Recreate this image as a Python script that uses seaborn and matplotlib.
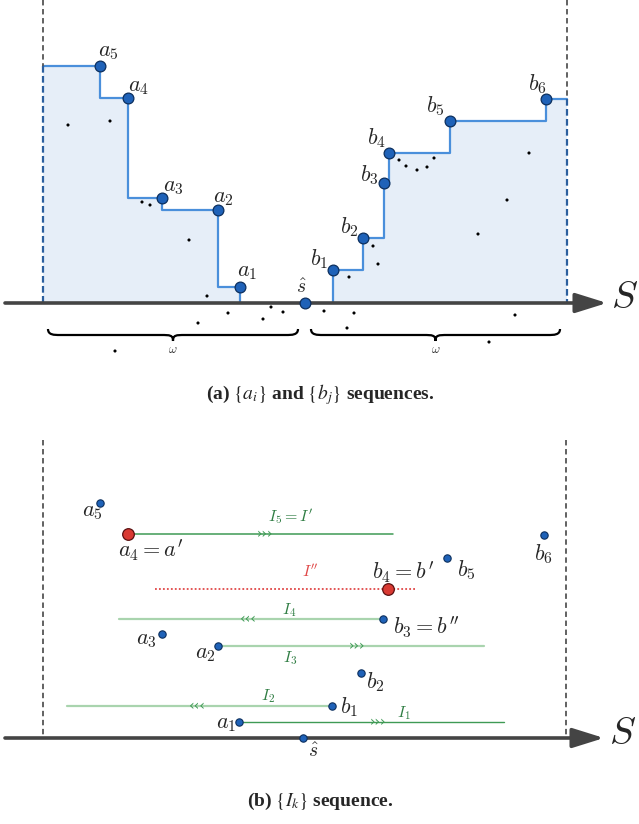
import numpy as np
import pandas as pd
import matplotlib.pyplot as plt
import seaborn as sns
from matplotlib.path import Path as MPath
from matplotlib.patches import PathPatch

sns.set_theme(style="white")
plt.rcParams["font.family"] = ["Liberation Serif", "DejaVu Serif"]

# ---- panel (a): staircase sequences (pixel coordinates of the figure) ----
axis_a = 303
walls = [43, 567]
a_x = [100, 128, 162, 218, 240]
a_y = [66, 98, 198, 210, 287]
a_lbl = ["$a_5$", "$a_4$", "$a_3$", "$a_2$", "$a_1$"]
b_x = [333, 363, 384, 389, 450, 546]
b_y = [270, 238, 183, 153, 121, 99]
b_lbl = ["$b_1$", "$b_2$", "$b_3$", "$b_4$", "$b_5$", "$b_6$"]
s_hat_a = 305
dots_x = [68, 110, 142, 150, 189, 207, 228, 198, 263, 271, 283, 115,
          324, 354, 347, 349, 373, 378, 399, 406, 417, 427, 434, 529, 507, 478, 515, 489]
dots_y = [125, 121, 202, 205, 240, 296, 313, 323, 319, 307, 312, 351,
          311, 313, 328, 277, 246, 264, 160, 166, 170, 167, 158, 153, 200, 234, 315, 342]
braces = [(48, 298), (311, 560)]

# ---- panel (b): intervals ----
axis_b = 738
pb_names = ["a5", "a4", "a3", "a2", "a1", "b1", "b2", "b3", "b4", "b5", "b6"]
pb_x = [100, 128, 162, 218, 239, 332, 361, 383, 388, 447, 544]
pb_y = [503, 534, 634, 646, 722, 706, 673, 619, 589, 558, 535]
pb_red = ["a4", "b4"]
s_hat_b = 303
iv_names = ["$I_5 = I'$", "$I''$", "$I_4$", "$I_3$", "$I_2$", "$I_1$"]
iv_start = [128, 155, 119, 218, 67, 239]
iv_end = [393, 415, 383, 484, 332, 504]
iv_y = [534, 589, 619, 646, 706, 722]
iv_dir = [">", None, "<", ">", "<", ">"]
iv_arrow_x = [265, None, 248, 357, 197, 378]

fig = plt.figure(figsize=(6.39, 8.24), dpi=100)
ax = fig.add_axes([0, 0, 1, 1])
ax.set_xlim(0, 639)
ax.set_ylim(824, 0)
ax.axis("off")

blue = "#1f62b8"
edge = "#0c2f5e"
step_c = "#4a8fdb"
fill_c = "#e6eef8"

# staircase a
sx = [walls[0]] + a_x + [a_x[-1]]
sy = [a_y[0]] + a_y + [axis_a]
ax.fill_between(sx, sy, axis_a, step="pre", color=fill_c, lw=0)
ax.step(sx, sy, where="pre", color=step_c, lw=1.6)
# staircase b
tx = [b_x[0]] + b_x + [walls[1]]
ty = [axis_a] + b_y + [b_y[-1]]
ax.fill_between(tx, ty, axis_a, step="post", color=fill_c, lw=0)
ax.step(tx, ty, where="post", color=step_c, lw=1.6)

for xw, yt in zip(walls, [a_y[0], b_y[-1]]):
    ax.plot([xw, xw], [0, yt], color="#555555", lw=1.3, ls=(0, (3, 2)))
    ax.plot([xw, xw], [yt, axis_a], color="#2c5f9e", lw=1.6, ls=(0, (3, 1.5)))

ax.annotate("", xy=(607, axis_a), xytext=(5, axis_a),
            arrowprops=dict(arrowstyle="-|>,head_length=1.6,head_width=0.5",
                            color="#444444", lw=2.6, shrinkA=0, shrinkB=0))
ax.text(625, axis_a - 4, "$S$", fontsize=28, va="center", ha="center", math_fontfamily="cm")

sns.scatterplot(x=dots_x, y=dots_y, ax=ax, s=5, color="black", edgecolor="none")
sns.scatterplot(x=a_x + b_x + [s_hat_a], y=a_y + b_y + [axis_a], ax=ax, s=60,
                color=blue, edgecolor=edge, linewidth=0.9, zorder=5)

a_off = [(8, -14), (11, -11), (11, -11), (5, -12), (7, -14)]
for x, y, l, (dx, dy) in zip(a_x, a_y, a_lbl, a_off):
    ax.text(x + dx, y + dy, l, fontsize=16, math_fontfamily="cm", ha="center", va="center")
b_off = [(-14, -11), (-14, -11), (-15, -8), (-13, -15), (-15, -15), (-9, -15)]
for x, y, l, (dx, dy) in zip(b_x, b_y, b_lbl, b_off):
    ax.text(x + dx, y + dy, l, fontsize=16, math_fontfamily="cm", ha="center", va="center")
ax.text(s_hat_a - 4, axis_a - 15, r"$\hat{s}$", fontsize=14, math_fontfamily="cm",
        ha="center", va="center")


def brace(x0, x1, y, d):
    xm = (x0 + x1) / 2
    q = 12
    verts = [(x0, y), (x0, y + d / 2), (x0 + q / 2, y + d / 2), (x0 + q, y + d / 2),
             (xm - q, y + d / 2), (xm - 3, y + d / 2), (xm, y + d / 2), (xm, y + d),
             (xm, y + d / 2), (xm + 3, y + d / 2), (xm + q, y + d / 2),
             (x1 - q, y + d / 2), (x1 - q / 2, y + d / 2), (x1, y + d / 2), (x1, y)]
    codes = [MPath.MOVETO, MPath.CURVE4, MPath.CURVE4, MPath.CURVE4,
             MPath.LINETO, MPath.CURVE4, MPath.CURVE4, MPath.CURVE4,
             MPath.CURVE4, MPath.CURVE4, MPath.CURVE4,
             MPath.LINETO, MPath.CURVE4, MPath.CURVE4, MPath.CURVE4]
    ax.add_patch(PathPatch(MPath(verts, codes), fill=False, lw=1.6, color="black"))
    ax.text(xm, y + d + 9, r"$\omega$", fontsize=9, math_fontfamily="cm",
            ha="center", va="center", color="#333333")


for x0, x1 in braces:
    brace(x0, x1, 329, 12)

ax.text(320, 395, r"(a) $\{a_i\}$ and $\{b_j\}$ sequences.", fontsize=14,
        fontweight="bold", ha="center", va="center", math_fontfamily="stix")

# ---- panel (b) ----
for xw in walls:
    ax.plot([xw - 1, xw - 1] if xw > 300 else [xw, xw], [440, axis_b],
            color="#555555", lw=1.3, ls=(0, (3, 2)))
ax.annotate("", xy=(604, axis_b), xytext=(5, axis_b),
            arrowprops=dict(arrowstyle="-|>,head_length=1.6,head_width=0.5",
                            color="#444444", lw=2.6, shrinkA=0, shrinkB=0))
ax.text(623, axis_b - 4, "$S$", fontsize=28, va="center", ha="center", math_fontfamily="cm")

dark_g = "#3f9a55"
light_g = "#a9d4ae"
txt_g = "#2f7d43"
iv_col = [dark_g, "#e04848", light_g, light_g, light_g, dark_g]
iv_lw = [1.1, 1.3, 1.6, 1.6, 1.6, 1.0]
for n, x0, x1, y, d, axx, c, lw in zip(iv_names, iv_start, iv_end, iv_y, iv_dir,
                                       iv_arrow_x, iv_col, iv_lw):
    if d is None:
        ax.plot([x0, x1], [y, y], color=c, lw=lw, ls=(0, (1, 1.2)))
    else:
        ax.plot([x0, x1], [y, y], color=c, lw=lw)
        ax.text(axx, y, "\u203a\u203a\u203a" if d == ">" else "\u2039\u2039\u2039",
                fontsize=10, color=dark_g, ha="center", va="center",
                family=["DejaVu Sans"])

iv_lbl_pos = [(291, 516), (310, 572), (289, 610), (290, 658), (268, 696), (404, 713)]
iv_lbl_col = [txt_g, "#e04848", txt_g, txt_g, txt_g, txt_g]
for n, (lx, ly), c in zip(iv_names, iv_lbl_pos, iv_lbl_col):
    ax.text(lx, ly, n, fontsize=11.5, color=c, ha="center", va="center", math_fontfamily="cm")

pts = pd.DataFrame({"name": pb_names, "x": pb_x, "y": pb_y})
pts["red"] = pts["name"].isin(pb_red)
sns.scatterplot(data=pts[~pts["red"]], x="x", y="y", ax=ax, s=28, color=blue,
                edgecolor=edge, linewidth=0.8, zorder=5, legend=False)
sns.scatterplot(data=pts[pts["red"]], x="x", y="y", ax=ax, s=70, color="#d93a33",
                edgecolor="#5a1010", linewidth=0.9, zorder=5, legend=False)
sns.scatterplot(x=[s_hat_b], y=[axis_b], ax=ax, s=28, color=blue, edgecolor=edge,
                linewidth=0.8, zorder=5)

pb_lbl = ["$a_5$", "$a_4 = a'$", "$a_3$", "$a_2$", "$a_1$", "$b_1$", "$b_2$",
          "$b_3 = b''$", "$b_4 = b'$", "$b_5$", "$b_6$"]
pb_lbl_pos = [(92, 513), (151, 550), (146, 641), (205, 654), (226, 724), (349, 707),
              (375, 682), (426, 627), (403, 572), (466, 570), (543, 554)]
for l, (lx, ly) in zip(pb_lbl, pb_lbl_pos):
    ax.text(lx, ly, l, fontsize=16, math_fontfamily="cm", ha="center", va="center")
ax.text(313, 752, r"$\hat{s}$", fontsize=14, math_fontfamily="cm", ha="center", va="center")

ax.text(320, 801, r"(b) $\{I_k\}$ sequence.", fontsize=14, fontweight="bold",
        ha="center", va="center", math_fontfamily="stix")

fig.savefig("out.png", dpi=100)
